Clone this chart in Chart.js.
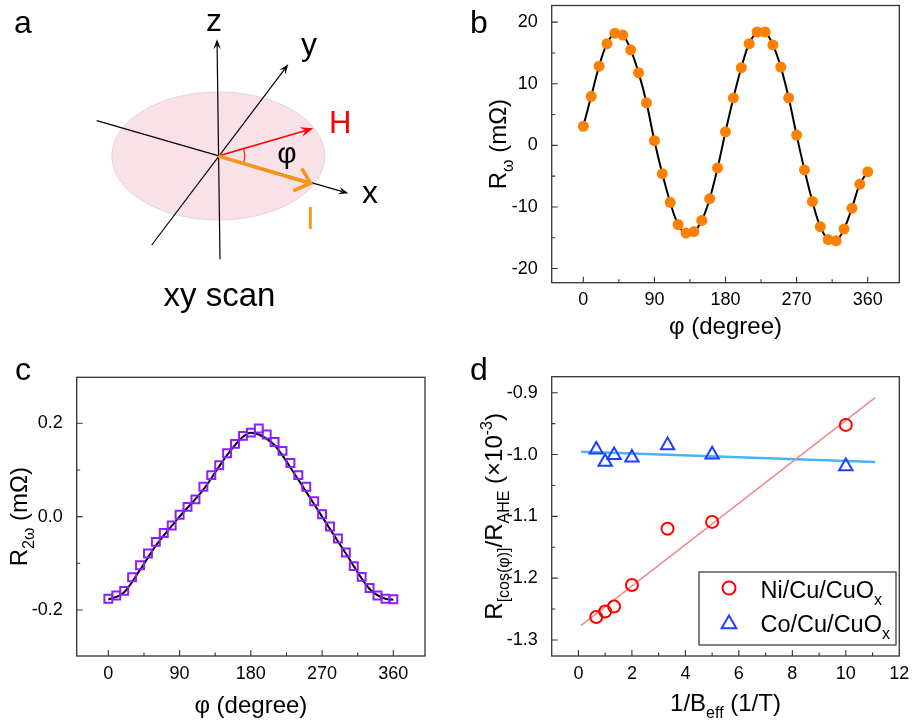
<!DOCTYPE html>
<html>
<head>
<meta charset="utf-8">
<title>xy scan</title>
<script src="https://cdn.jsdelivr.net/npm/chart.js@4.4.1/dist/chart.umd.min.js"></script>
<style>
  body { margin: 0; background: #fff; }
  #fig { position: relative; width: 914px; height: 724px; }
  canvas { position: absolute; }
</style>
</head>
<body>
<div id="fig">
  <canvas id="panel_a" width="457" height="340" style="left:0;top:0"></canvas>
  <canvas id="panel_b" width="457" height="340" style="left:457px;top:0"></canvas>
  <canvas id="panel_c" width="457" height="384" style="left:0;top:340px"></canvas>
  <canvas id="panel_d" width="457" height="384" style="left:457px;top:340px"></canvas>
</div>
<script>
var FONT = "'Liberation Sans', Arial, sans-serif";
Chart.defaults.font.family = FONT;
Chart.defaults.color = '#000';

// ---- data (b) ----
var phiDeg = [0, 10, 20, 30, 40, 50, 60, 70, 80, 90, 100, 110, 120, 130, 140, 150, 160, 170, 180,
  190, 200, 210, 220, 230, 240, 250, 260, 270, 280, 290, 300, 310, 320, 330, 340, 350, 360];
var rOmega = [3.1, 7.96, 12.85, 16.5, 18.2, 17.9, 15.5, 11.8, 6.9, 0.75, -4.6, -9.25, -12.85, -14.25,
  -14.0, -12.2, -8.66, -3.66, 2.2, 7.7, 12.6, 16.5, 18.4, 18.4, 16.3, 12.7, 7.7, 1.67, -4.0, -9.1,
  -13.2, -15.3, -15.5, -13.6, -10.2, -6.3, -4.3];

// ---- data (c) ----
var r2Omega = [-0.176, -0.169, -0.159, -0.13, -0.104, -0.079, -0.054, -0.035, -0.019, 0.004, 0.021,
  0.037, 0.064, 0.089, 0.11, 0.136, 0.156, 0.173, 0.18, 0.189, 0.176, 0.16, 0.141, 0.115, 0.089,
  0.064, 0.033, 0.005, -0.021, -0.047, -0.077, -0.106, -0.129, -0.153, -0.169, -0.176, -0.177];
var fitPhiC = [0, 20, 40, 60, 90, 120, 150, 170, 180, 190, 210, 240, 270, 300, 330, 350, 360];
var fitR2C = [-0.178, -0.162, -0.114, -0.062, 0.0, 0.058, 0.132, 0.171, 0.18, 0.176, 0.153, 0.079,
  0.0, -0.079, -0.155, -0.176, -0.178];

// ---- data (d) ----
var invB = [0.667, 1.0, 1.333, 2.0, 3.333, 5.0, 10.0];
var niRatio = [-1.263, -1.254, -1.246, -1.211, -1.120, -1.109, -0.952];
var coRatio = [-0.992, -1.012, -1.001, -1.005, -0.985, -1.000, -1.019];
var fitX = [0.1, 11.1];
var niFit = [-1.2766, -0.908];
var coFit = [-0.9955, -1.012];

// ---- ticks ----
var phiTicks = [0, 90, 180, 270, 360];
var rOmegaTicks = [-20, -10, 0, 10, 20];
var r2OmegaTicks = [-0.2, 0.0, 0.2];
var invBTicks = [0, 2, 4, 6, 8, 10, 12];
var ratioTicks = [-1.3, -1.2, -1.1, -1.0, -0.9];

function pts(xs, ys) {
  return xs.map(function (x, i) { return { x: x, y: ys[i] }; });
}

function fontFor(p, size) {
  var s = p[1] ? Math.round(size * 0.66) : size;
  return s + 'px ' + FONT;
}

// parts: [[text, ''|'sub'|'sup'], ...]
function richText(ctx, parts, x, y, size, align) {
  var w = 0;
  parts.forEach(function (p) { ctx.font = fontFor(p, size); w += ctx.measureText(p[0]).width; });
  var cx = align === 'center' ? x - w / 2 : x;
  ctx.textAlign = 'left';
  ctx.textBaseline = 'alphabetic';
  parts.forEach(function (p) {
    ctx.font = fontFor(p, size);
    var dy = p[1] === 'sub' ? size * 0.3 : (p[1] === 'sup' ? -size * 0.42 : 0);
    ctx.fillText(p[0], cx, y + dy);
    cx += ctx.measureText(p[0]).width;
  });
}

function minorValues(min, max, step, majors) {
  var out = [];
  var start = Math.ceil(min / step);
  for (var i = start; i * step <= max + 1e-9; i++) {
    var v = Math.round(i * step * 1e6) / 1e6;
    var isMajor = majors.some(function (m) { return Math.abs(m - v) < 1e-6; });
    if (!isMajor) out.push(v);
  }
  return out;
}

// frame box + inward ticks
function frameTicks(cfg) {
  return {
    id: 'frameTicks',
    afterDraw: function (chart) {
      var ctx = chart.ctx, a = chart.chartArea;
      var xs = chart.scales.x, ys = chart.scales.y;
      ctx.save();
      ctx.strokeStyle = '#333';
      ctx.lineWidth = 1.3;
      ctx.strokeRect(a.left, a.top, a.right - a.left, a.bottom - a.top);
      ctx.lineWidth = 1.1;
      ctx.beginPath();
      function xt(v, len) {
        var p = xs.getPixelForValue(v);
        if (p < a.left + 2 || p > a.right - 2) return;
        ctx.moveTo(p, a.bottom); ctx.lineTo(p, a.bottom - len);
      }
      function yt(v, len) {
        var p = ys.getPixelForValue(v);
        if (p < a.top + 2 || p > a.bottom - 2) return;
        ctx.moveTo(a.left, p); ctx.lineTo(a.left + len, p);
      }
      cfg.xTicks.forEach(function (v) { xt(v, 6); });
      cfg.yTicks.forEach(function (v) { yt(v, 6); });
      minorValues(cfg.xMin, cfg.xMax, cfg.xMinor, cfg.xTicks).forEach(function (v) { xt(v, 3.5); });
      minorValues(cfg.yMin, cfg.yMax, cfg.yMinor, cfg.yTicks).forEach(function (v) { yt(v, 3.5); });
      ctx.stroke();
      ctx.restore();
    }
  };
}

// panel letter and axis titles
function decor(cfg) {
  return {
    id: 'decor',
    afterDraw: function (chart) {
      var ctx = chart.ctx, a = chart.chartArea;
      ctx.save();
      ctx.fillStyle = '#000';
      ctx.font = '32px ' + FONT;
      ctx.textAlign = 'left';
      ctx.textBaseline = 'alphabetic';
      ctx.fillText(cfg.letter, cfg.letterPos[0], cfg.letterPos[1]);
      richText(ctx, cfg.xTitle, (a.left + a.right) / 2, cfg.xTitleY, 24, 'center');
      ctx.translate(cfg.yTitleX, (a.top + a.bottom) / 2);
      ctx.rotate(-Math.PI / 2);
      richText(ctx, cfg.yTitle, 0, 0, 24, 'center');
      ctx.restore();
      if (cfg.extra) cfg.extra(chart);
    }
  };
}

function makePlot(id, cfg) {
  var ctx = document.getElementById(id).getContext('2d');
  return new Chart(ctx, {
    type: 'scatter',
    data: { datasets: cfg.datasets },
    options: {
      responsive: false,
      animation: false,
      events: [],
      layout: { padding: { left: 0, top: cfg.area.top, right: cfg.width - cfg.area.right, bottom: 0 } },
      plugins: { legend: { display: false }, tooltip: { enabled: false } },
      scales: {
        x: {
          type: 'linear', min: cfg.xMin, max: cfg.xMax,
          grid: { display: false }, border: { display: false },
          ticks: { font: { size: 18 }, color: '#000', padding: -1, maxRotation: 0, callback: cfg.xFmt },
          afterBuildTicks: function (s) { s.ticks = cfg.xTicks.map(function (v) { return { value: v }; }); },
          afterFit: function (s) { s.height = cfg.height - cfg.area.bottom; s.paddingLeft = 0; s.paddingRight = 0; }
        },
        y: {
          type: 'linear', min: cfg.yMin, max: cfg.yMax,
          grid: { display: false }, border: { display: false },
          ticks: { font: { size: 18 }, color: '#000', padding: 6, callback: cfg.yFmt },
          afterBuildTicks: function (s) { s.ticks = cfg.yTicks.map(function (v) { return { value: v }; }); },
          afterFit: function (s) { s.width = cfg.area.left; s.paddingTop = 0; s.paddingBottom = 0; }
        }
      }
    },
    plugins: [frameTicks(cfg), decor(cfg)]
  });
}

// ---------- panel a : schematic ----------
function arrowTo(ctx, x1, y1, x2, y2, color, lw, head) {
  var ang = Math.atan2(y2 - y1, x2 - x1);
  var c = Math.cos(ang), s = Math.sin(ang);
  ctx.strokeStyle = color; ctx.fillStyle = color; ctx.lineWidth = lw;
  ctx.beginPath();
  ctx.moveTo(x1, y1);
  ctx.lineTo(x2 - c * head * 0.6, y2 - s * head * 0.6);
  ctx.stroke();
  ctx.beginPath();
  ctx.moveTo(x2, y2);
  ctx.lineTo(x2 - head * c + head * 0.38 * s, y2 - head * s - head * 0.38 * c);
  ctx.lineTo(x2 - head * 0.6 * c, y2 - head * 0.6 * s);
  ctx.lineTo(x2 - head * c - head * 0.38 * s, y2 - head * s + head * 0.38 * c);
  ctx.closePath();
  ctx.fill();
}

var schematic = {
  id: 'schematic',
  afterDraw: function (chart) {
    var ctx = chart.ctx;
    var cx = 218.3, cy = 156;
    ctx.save();
    // film
    ctx.beginPath();
    ctx.ellipse(cx, cy, 106.5, 64, 0, 0, Math.PI * 2);
    ctx.fillStyle = '#f8e1e7';
    ctx.fill();
    ctx.strokeStyle = '#e6d3d7';
    ctx.lineWidth = 1;
    ctx.stroke();
    // axes
    ctx.lineCap = 'butt';
    arrowTo(ctx, 220, 259.3, 217, 39.3, '#000', 1.2, 10);
    arrowTo(ctx, 151.7, 245, 288.3, 64.3, '#000', 1.2, 10);
    arrowTo(ctx, 96.7, 120.7, 348.3, 193.3, '#000', 1.2, 10);
    // H
    arrowTo(ctx, cx, cy, 313.3, 128.3, '#ff0000', 1.6, 13);
    // angle
    ctx.beginPath();
    ctx.strokeStyle = '#ff0000';
    ctx.lineWidth = 1;
    ctx.arc(cx, cy, 26.5, Math.atan2(128.3 - cy, 313.3 - cx), Math.atan2(183.3 - cy, 310 - cx));
    ctx.stroke();
    // I
    ctx.strokeStyle = '#f7941d';
    ctx.lineWidth = 3.5;
    ctx.beginPath();
    ctx.moveTo(cx, cy);
    ctx.lineTo(309, 183);
    ctx.stroke();
    ctx.beginPath();
    ctx.moveTo(301.7, 168.3);
    ctx.lineTo(310.5, 183.2);
    ctx.lineTo(293.3, 190.8);
    ctx.stroke();
    // labels
    ctx.textAlign = 'left';
    ctx.textBaseline = 'alphabetic';
    ctx.fillStyle = '#000';
    ctx.font = '32px ' + FONT;
    ctx.fillText('a', 14, 33);
    ctx.fillText('z', 206, 31);
    ctx.fillText('y', 301, 55);
    ctx.fillText('x', 362, 203);
    ctx.fillStyle = '#ff0000';
    ctx.font = '31px ' + FONT;
    ctx.fillText('H', 329, 133);
    ctx.fillStyle = '#f7941d';
    ctx.fillText('I', 306, 229);
    ctx.fillStyle = '#000';
    ctx.font = '30px ' + FONT;
    ctx.textAlign = 'center';
    ctx.textBaseline = 'middle';
    ctx.fillText('\u03c6', 287, 155);
    ctx.textBaseline = 'alphabetic';
    ctx.font = '33px ' + FONT;
    ctx.fillText('xy scan', 219.5, 306);
    ctx.restore();
  }
};

new Chart(document.getElementById('panel_a').getContext('2d'), {
  type: 'scatter',
  data: { datasets: [] },
  options: {
    responsive: false, animation: false, events: [],
    plugins: { legend: { display: false }, tooltip: { enabled: false } },
    scales: { x: { display: false }, y: { display: false } }
  },
  plugins: [schematic]
});

// ---------- panel b ----------
makePlot('panel_b', {
  width: 457, height: 340,
  area: { left: 94.7, right: 442.3, top: 4.3, bottom: 282.7 },
  xMin: -40, xMax: 400, yMin: -22.3, yMax: 22.7,
  xTicks: phiTicks, yTicks: rOmegaTicks, xMinor: 45, yMinor: 5,
  xFmt: function (v) { return String(v); },
  yFmt: function (v) { return String(v); },
  letter: 'b', letterPos: [13, 33],
  xTitle: [['\u03c6 (degree)', '']], xTitleY: 334,
  yTitle: [['R', ''], ['\u03c9', 'sub'], [' (m\u03a9)', '']], yTitleX: 49,
  datasets: [
    { data: pts(phiDeg, rOmega), showLine: false, pointRadius: 5.5, pointBackgroundColor: '#ff8000',
      pointBorderWidth: 0, order: 0 },
    { data: pts(phiDeg, rOmega), showLine: true, borderColor: '#000', borderWidth: 2, tension: 0.4,
      pointRadius: 0, order: 1 }
  ]
});

// ---------- panel c ----------
makePlot('panel_c', {
  width: 457, height: 384,
  area: { left: 76.7, right: 425, top: 37.3, bottom: 316 },
  xMin: -40, xMax: 400, yMin: -0.2986, yMax: 0.2986,
  xTicks: phiTicks, yTicks: r2OmegaTicks, xMinor: 45, yMinor: 0.1,
  xFmt: function (v) { return String(v); },
  yFmt: function (v) { return v.toFixed(1); },
  letter: 'c', letterPos: [15, 40],
  xTitle: [['\u03c6 (degree)', '']], xTitleY: 372.7,
  yTitle: [['R', ''], ['2\u03c9', 'sub'], [' (m\u03a9)', '']], yTitleX: 27,
  datasets: [
    { data: pts(phiDeg, r2Omega), showLine: false, pointStyle: 'rect', pointRadius: 5.6,
      pointBackgroundColor: 'rgba(0,0,0,0)', pointBorderColor: '#8c1eff', pointBorderWidth: 2, order: 0 },
    { data: pts(fitPhiC, fitR2C), showLine: true, borderColor: '#000', borderWidth: 2,
      cubicInterpolationMode: 'monotone', pointRadius: 0, order: 1 }
  ]
});

// ---------- panel d ----------
function legendD(chart) {
  var ctx = chart.ctx;
  ctx.save();
  ctx.strokeStyle = '#333';
  ctx.lineWidth = 1.2;
  ctx.strokeRect(242, 232, 197, 73);
  ctx.lineWidth = 2;
  ctx.strokeStyle = '#ff0000';
  ctx.beginPath();
  ctx.arc(272, 248, 6.5, 0, Math.PI * 2);
  ctx.stroke();
  ctx.strokeStyle = '#1f3fff';
  ctx.beginPath();
  var r = 8.5, tx = 272, ty = 284;
  ctx.moveTo(tx, ty - r);
  ctx.lineTo(tx + r * 0.866, ty + r * 0.5);
  ctx.lineTo(tx - r * 0.866, ty + r * 0.5);
  ctx.closePath();
  ctx.stroke();
  ctx.fillStyle = '#000';
  richText(ctx, [['Ni/Cu/CuO', ''], ['x', 'sub']], 303.5, 257.7, 23.5, 'left');
  richText(ctx, [['Co/Cu/CuO', ''], ['x', 'sub']], 303.5, 291.7, 23.5, 'left');
  ctx.restore();
}

makePlot('panel_d', {
  width: 457, height: 384,
  area: { left: 94.7, right: 442.3, top: 36.7, bottom: 316 },
  xMin: -1, xMax: 12, yMin: -1.326, yMax: -0.874,
  xTicks: invBTicks, yTicks: ratioTicks, xMinor: 1, yMinor: 0.05,
  xFmt: function (v) { return String(v); },
  yFmt: function (v) { return v.toFixed(1); },
  letter: 'd', letterPos: [13, 40],
  xTitle: [['1/B', ''], ['eff', 'sub'], [' (1/T)', '']], xTitleY: 370.7,
  yTitle: [['R', ''], ['[cos(\u03c6)]', 'sub'], ['/R', ''], ['AHE', 'sub'], [' (\u00d710', ''], ['-3', 'sup'], [')', '']],
  yTitleX: 45,
  extra: legendD,
  datasets: [
    { data: pts(invB, niRatio), showLine: false, pointStyle: 'circle', pointRadius: 6,
      pointBackgroundColor: 'rgba(0,0,0,0)', pointBorderColor: '#ff0000', pointBorderWidth: 2, order: 0 },
    { data: pts(invB, coRatio), showLine: false, pointStyle: 'triangle', pointRadius: 7.7,
      pointBackgroundColor: 'rgba(0,0,0,0)', pointBorderColor: '#1f3fff', pointBorderWidth: 2, order: 0 },
    { data: pts(fitX, niFit), showLine: true, borderColor: '#f08c8c', borderWidth: 1.6, pointRadius: 0, order: 1 },
    { data: pts(fitX, coFit), showLine: true, borderColor: '#4bb4f0', borderWidth: 2.5, pointRadius: 0, order: 1 }
  ]
});
</script>
</body>
</html>
